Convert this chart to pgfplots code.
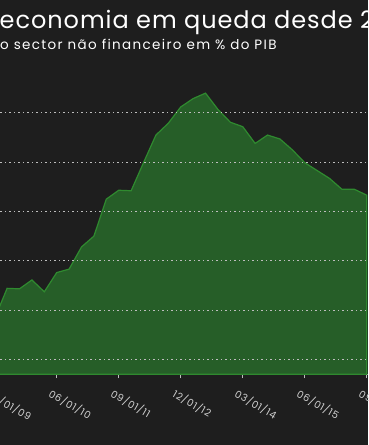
\documentclass[border=0pt]{standalone}
\usepackage{pgfplots}
\pgfplotsset{compat=1.18}
\usepackage{fontspec}
\setmainfont{Poppins}
\definecolor{bg}{HTML}{1E1E1E}
\definecolor{areafill}{HTML}{265E28}
\definecolor{arealine}{HTML}{2F8A2F}
\definecolor{gridc}{HTML}{BDBDBD}
\definecolor{labc}{HTML}{D0D0D0}
\begin{document}
\begin{tikzpicture}[x=1pt,y=1pt]
\useasboundingbox (0,0) rectangle (368,445);
\clip (0,0) rectangle (368,445);
\fill[bg] (0,0) rectangle (368,445);
\begin{axis}[
  at={(-17.7pt,70.7pt)}, anchor=south west,
  scale only axis, width=385.7pt, height=374.3pt,
  xmin=-1, xmax=30.1, ymin=246.96, ymax=322.9,
  axis x line*=bottom,
  axis y line*=left,
  x axis line style={draw=gridc, line width=0.6pt, -},
  y axis line style={draw=none},
  xtick={0,5,10,15,20,25,30},
  xticklabels={03/01/09,06/01/10,09/01/11,12/01/12,03/01/14,06/01/15,09/01/16},
  xticklabel style={font=\fontsize{10}{11}\selectfont\addfontfeatures{LetterSpace=8}, text=labc, xshift=-10pt, yshift=-13pt, rotate=-30, anchor=west},
  major tick length=4pt,
  tick align=outside,
  xtick style={draw=gridc, line width=0.6pt},
  ytick=\empty,
  clip=true,
]
\addplot[draw=arealine, line width=1.2pt, fill=areafill] table[x=q,y=v] {
q v
0 258.3
1 264.4
2 264.3
3 266.1
4 263.7
5 267.6
6 268.3
7 272.8
8 275.0
9 282.5
10 284.3
11 284.2
12 289.9
13 295.5
14 297.9
15 301.2
16 302.9
17 304.0
18 300.7
19 298.1
20 297.2
21 293.8
22 295.5
23 294.7
24 292.5
25 289.9
26 288.3
27 286.7
28 284.5
29 284.5
30 283.3
} \closedcycle;
\foreach \yy in {250,260,270,280,290,300} {
  \edef\tmp{\noexpand\draw[gridc, line width=0.8pt, dash pattern=on 1.5pt off 3pt] (axis cs:-1,\yy) -- (axis cs:30.1,\yy);}
  \tmp
}
\end{axis}
\node[anchor=base west, inner sep=0pt, text=white, font=\fontsize{24}{28}\selectfont\addfontfeatures{LetterSpace=4}] at (-0.5,416.5) {economia em queda desde 2};
\node[anchor=base west, inner sep=0pt, text=white, font=\fontsize{13.5}{15}\selectfont\addfontfeatures{LetterSpace=10}] at (0,395) {o sector não financeiro em \% do PIB};
\end{tikzpicture}
\end{document}
